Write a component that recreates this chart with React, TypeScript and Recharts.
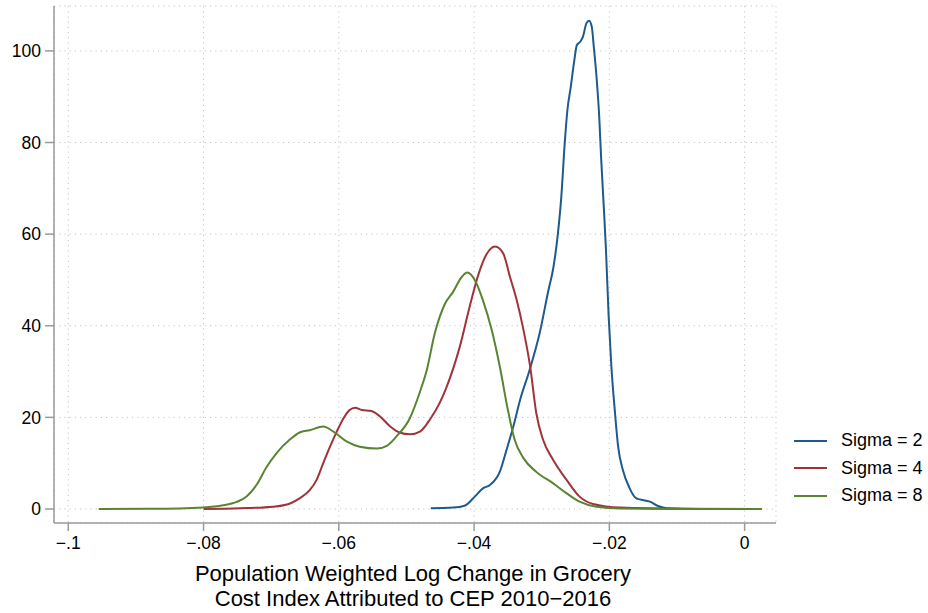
import { LineChart, Line, XAxis, YAxis, CartesianGrid } from 'recharts';

// density estimates: [x, density]
const sigma2: [number, number][] = [
  [-0.0464, 0.15], [-0.0431, 0.3], [-0.0414, 0.7], [-0.0399, 2.7], [-0.0387, 4.5],
  [-0.0377, 5.2], [-0.0362, 8.1], [-0.0352, 12.9], [-0.0342, 18.0], [-0.0332, 23.8],
  [-0.0318, 30.3], [-0.0303, 38.4], [-0.029, 47.8], [-0.0283, 52.5], [-0.0276, 60.2],
  [-0.0271, 68.2], [-0.0266, 79.8], [-0.0262, 87.1], [-0.0257, 92.2], [-0.0252, 97.7],
  [-0.0248, 101.3], [-0.0243, 102.0], [-0.0239, 103.1], [-0.0234, 106.0], [-0.023, 106.6],
  [-0.0226, 105.3], [-0.0223, 100.9], [-0.0219, 94.4], [-0.0215, 85.7], [-0.0212, 76.2],
  [-0.0208, 65.3], [-0.0205, 56.6], [-0.0201, 42.0], [-0.0197, 31.1], [-0.0192, 21.6],
  [-0.0187, 13.6], [-0.018, 8.5], [-0.017, 4.5], [-0.016, 2.3], [-0.0155, 2.1],
  [-0.014, 1.6], [-0.0128, 0.65], [-0.0115, 0.15], [-0.0067, 0], [0.0025, 0],
];

const sigma4: [number, number][] = [
  [-0.08, 0], [-0.0746, 0.15], [-0.0697, 0.5], [-0.0672, 1.2], [-0.0658, 2.3],
  [-0.0643, 4.1], [-0.0633, 6.3], [-0.0623, 10.0], [-0.0613, 13.6], [-0.0603, 16.9],
  [-0.0593, 19.8], [-0.0584, 21.6], [-0.0576, 22.1], [-0.0566, 21.6], [-0.0552, 21.4],
  [-0.0539, 20.2], [-0.0524, 18.0], [-0.051, 16.7], [-0.0495, 16.3], [-0.048, 16.9],
  [-0.0465, 19.6], [-0.0451, 23.1], [-0.0441, 26.5], [-0.0421, 35.5], [-0.0406, 44.5],
  [-0.0394, 51.0], [-0.0382, 55.5], [-0.0369, 57.3], [-0.0357, 55.8], [-0.0347, 50.7],
  [-0.0337, 45.6], [-0.0327, 39.1], [-0.0317, 31.0], [-0.0308, 20.9], [-0.0298, 15.1],
  [-0.0283, 10.7], [-0.0263, 6.3], [-0.0244, 2.7], [-0.0224, 1.1], [-0.0184, 0.3],
  [-0.0096, 0.05], [0.0025, 0],
];

const sigma8: [number, number][] = [
  [-0.0955, 0], [-0.0879, 0.05], [-0.08, 0.35], [-0.0771, 0.8], [-0.0756, 1.3],
  [-0.0736, 2.8], [-0.0721, 5.4], [-0.0707, 9.1], [-0.0692, 12.2], [-0.0672, 15.2],
  [-0.0658, 16.7], [-0.0643, 17.2], [-0.0623, 18.0], [-0.0608, 16.9], [-0.0588, 14.7],
  [-0.0569, 13.6], [-0.0544, 13.2], [-0.0529, 13.8], [-0.0515, 15.8], [-0.0495, 19.8],
  [-0.048, 25.6], [-0.047, 30.3], [-0.0458, 38.4], [-0.0443, 44.8], [-0.0431, 47.4],
  [-0.0418, 50.7], [-0.041, 51.6], [-0.0399, 50.0], [-0.0387, 45.6], [-0.0374, 39.1],
  [-0.0362, 31.1], [-0.035, 21.6], [-0.034, 15.1], [-0.0327, 11.1], [-0.0308, 8.1],
  [-0.0283, 5.6], [-0.0263, 3.4], [-0.0244, 1.6], [-0.0219, 0.5], [-0.0184, 0.1],
  [-0.0096, 0], [0.0025, 0],
];

const xTicks = [-0.1, -0.08, -0.06, -0.04, -0.02, 0];
const yTicks = [0, 20, 40, 60, 80, 100];
const titleLines = ['Population Weighted Log Change in Grocery', 'Cost Index Attributed to CEP 2010\u22122016'];

const series = [
  { name: 'Sigma = 2', points: sigma2, color: '#1d5a8e' },
  { name: 'Sigma = 4', points: sigma4, color: '#a0333a' },
  { name: 'Sigma = 8', points: sigma8, color: '#5a8432' },
];

const font = '"Liberation Sans", Arial, Helvetica, sans-serif';
const axisGray = '#9a9a9a';

const fmtX = (v: number) => (v === 0 ? '0' : '\u2212' + String(Math.abs(v)).replace(/^0/, ''));

const AxisTitle = (props: any) => {
  const vb = props.viewBox || { x: 54, y: 523, width: 722 };
  const cx = vb.x + vb.width / 2 - 2;
  return (
    <text textAnchor="middle" fontSize={22} fontFamily={font} fill="#000">
      <tspan x={cx} y={vb.y + 58}>{titleLines[0]}</tspan>
      <tspan x={cx} y={vb.y + 82.5}>{titleLines[1]}</tspan>
    </text>
  );
};

export default function App() {
  return (
    <div style={{ position: 'absolute', left: 0, top: 0, width: 928, height: 613, background: '#fff' }}>
      <LineChart width={928} height={613} margin={{ top: 6, right: 152, bottom: 0, left: 0 }}>
        <CartesianGrid stroke="#c4c4c4" strokeDasharray="1.2 4" strokeWidth={1} />
        <XAxis
          type="number"
          dataKey="x"
          domain={[-0.10211, 0.00464]}
          ticks={xTicks}
          tickFormatter={fmtX}
          height={90}
          tickSize={8}
          tickMargin={6}
          stroke={axisGray}
          strokeWidth={1.5}
          tick={{ fill: '#000', fontSize: 17.5, fontFamily: font }}
          allowDataOverflow
          label={<AxisTitle />}
        />
        <YAxis
          type="number"
          dataKey="y"
          domain={[-3.06, 109.8]}
          ticks={yTicks}
          width={54}
          tickSize={9}
          tickMargin={4}
          stroke={axisGray}
          strokeWidth={1.5}
          tick={{ fill: '#000', fontSize: 17.5, fontFamily: font }}
          allowDataOverflow
        />
        {series.map((s) => (
          <Line
            key={s.name}
            name={s.name}
            data={s.points.map(([x, y]) => ({ x, y }))}
            dataKey="y"
            type="monotone"
            stroke={s.color}
            strokeWidth={2}
            dot={false}
            activeDot={false}
            isAnimationActive={false}
          />
        ))}
      </LineChart>
      <div style={{ position: 'absolute', left: 794, top: 427, fontFamily: font, fontSize: 18 }}>
        {series.map((s) => (
          <div key={s.name} style={{ display: 'flex', alignItems: 'center', height: 27.5 }}>
            <svg width={33} height={4} style={{ marginRight: 14 }}>
              <line x1={0} y1={2} x2={33} y2={2} stroke={s.color} strokeWidth={2} />
            </svg>
            <span>{s.name}</span>
          </div>
        ))}
      </div>
    </div>
  );
}
